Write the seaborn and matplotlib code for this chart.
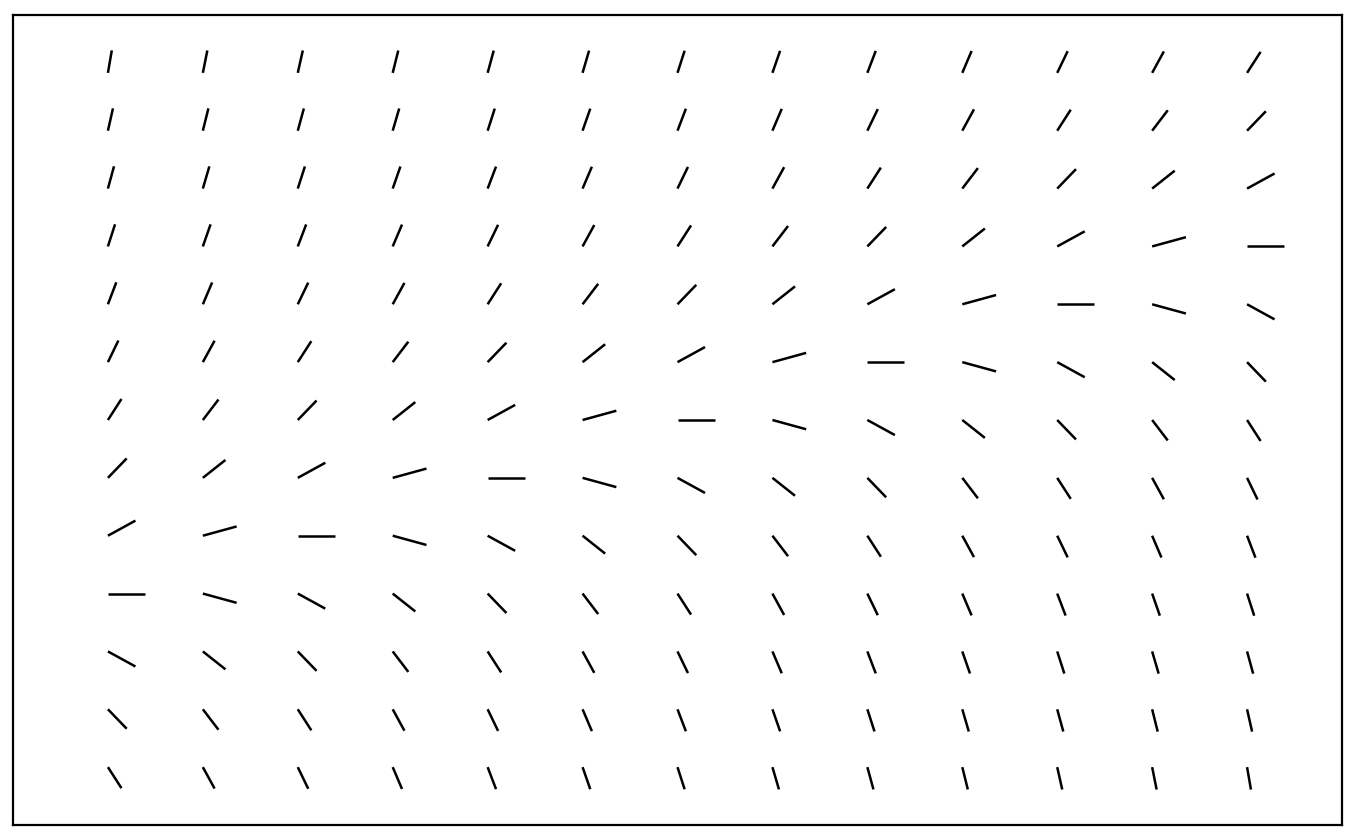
import numpy as np
import pandas as pd
import seaborn as sns
import matplotlib.pyplot as plt

# grid of sample points (left to right, top to bottom)
x_grid = [-6, -5, -4, -3, -2, -1, 0, 1, 2, 3, 4, 5, 6]
y_grid = [6, 5, 4, 3, 2, 1, 0, -1, -2, -3, -4, -5, -6]

# slope, per diagonal level (2*y - x)
levels = list(range(-18, 19))
slopes = [-9.5, -8.2, -7.3, -6.6, -6.0, -5.6, -5.1, -4.7, -4.3, -3.85,
          -3.4, -3.0, -2.55, -2.15, -1.7, -1.3, -0.9, -0.45, 0.0,
          0.45, 0.9, 1.3, 1.7, 2.15, 2.55, 3.0, 3.4, 3.85, 4.3,
          4.7, 5.1, 5.6, 6.0, 6.6, 7.3, 8.2, 9.5]
slope_at = dict(zip(levels, slopes))

seg_len = 0.39

# each segment starts at its grid point and runs to the right
rows = []
seg = 0
for y in y_grid:
    for x in x_grid:
        s = slope_at[2 * y - x]
        norm = np.sqrt(1 + s ** 2)
        rows.append({"seg": seg, "x": x, "y": y})
        rows.append({"seg": seg, "x": x + seg_len / norm, "y": y + seg_len * s / norm})
        seg += 1
df = pd.DataFrame(rows)

sns.set_style("white")
fig, ax = plt.subplots(figsize=(13.52, 8.29), dpi=100)
sns.lineplot(data=df, x="x", y="y", units="seg", estimator=None, sort=False,
             color="black", linewidth=1.8, solid_capstyle="butt", ax=ax, legend=False)

ax.set_xlim(-7, 7)
ax.set_ylim(-7, 7)
ax.set(xticks=[], yticks=[], xlabel="", ylabel="")
for sp in ax.spines.values():
    sp.set_color("black")
    sp.set_linewidth(1.6)

fig.subplots_adjust(left=13 / 1352, right=1342 / 1352, top=1 - 16 / 829, bottom=1 - 826 / 829)
fig.savefig("out.png", dpi=100)
